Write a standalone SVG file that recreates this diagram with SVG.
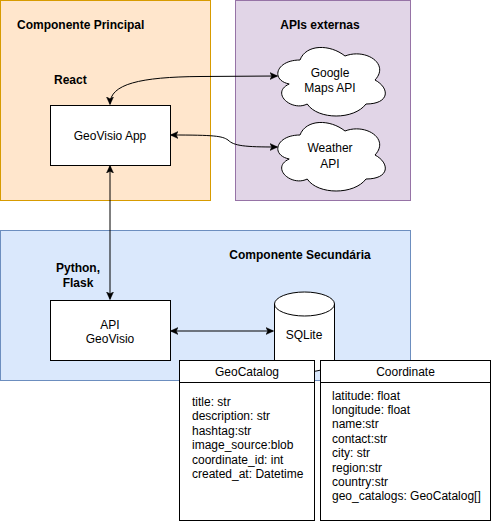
<svg xmlns="http://www.w3.org/2000/svg" width="501" height="522" viewBox="0 0 501 522">
<defs>
<marker id="ah" viewBox="0 0 10 10" refX="9" refY="5" markerWidth="8" markerHeight="8" markerUnits="userSpaceOnUse" orient="auto-start-reverse">
<path d="M0,0.5 L10,5 L0,9.5 L2.5,5 Z" fill="#000" stroke="#000" stroke-width="0.5"/>
</marker>
<style>
text{font-family:"Liberation Sans",Arial,sans-serif;font-size:12px;fill:#000}
.b{font-weight:bold}
.m{text-anchor:middle}
.node{fill:#fff;stroke:#000;stroke-width:1}
.edge{fill:none;stroke:#000;stroke-width:1;marker-start:url(#ah);marker-end:url(#ah)}
</style>
</defs>
<rect width="501" height="522" fill="#fff"/>
<g id="componente-principal">
<rect x="0.5" y="0.5" width="210" height="200" fill="#ffe6cc" stroke="#d79b00"/>
<text class="b" x="17" y="29">Componente Principal</text>
<text class="b" x="54" y="84">React</text>
</g>
<g id="apis-externas">
<rect x="235.5" y="0.5" width="175" height="200" fill="#e1d5e7" stroke="#9673a6"/>
<text class="b m" x="320" y="29">APIs externas</text>
</g>
<g id="componente-secundaria">
<rect x="0.5" y="230.5" width="410" height="150" fill="#dae8fc" stroke="#6c8ebf"/>
<text class="b m" x="300" y="259">Componente Secundária</text>
<text class="b m" x="78" y="272">Python,</text>
<text class="b m" x="78" y="286.5">Flask</text>
</g>
<g id="connectors">
<path class="edge" d="M110,104 C110,84 140,77 200,76.5 L277,76"/>
<path class="edge" d="M171,135 C215,135 222,136 228,140 C234,146 245,147 277,147"/>
<path class="edge" d="M110,166 L110,299"/>
<path class="edge" d="M171,331 L273,331"/>
</g>
<g id="geovisio-app">
<rect class="node" x="50.5" y="105.5" width="120" height="60"/>
<text class="m" x="110" y="139.5">GeoVisio App</text>
</g>
<g id="google-maps-api">
<path class="node" d="M300,60 C276,60 270,80 289.2,84 C270,92.8 291.6,112 307.2,104 C318,120 354,120 366,104 C390,104 390,88 375,80 C390,64 366,48 345,56 C330,44 306,44 300,60 Z"/>
<text class="m" x="330" y="77">Google</text>
<text class="m" x="330" y="92">Maps API</text>
</g>
<g id="weather-api">
<path class="node" d="M300,135 C276,135 270,155 289.2,159 C270,167.8 291.6,187 307.2,179 C318,195 354,195 366,179 C390,179 390,163 375,155 C390,139 366,123 345,131 C330,119 306,119 300,135 Z"/>
<text class="m" x="330" y="152">Weather</text>
<text class="m" x="330" y="167.5">API</text>
</g>
<g id="api-geovisio">
<rect class="node" x="50.5" y="300.5" width="120" height="60"/>
<text class="m" x="110" y="329">API</text>
<text class="m" x="110" y="342.5">GeoVisio</text>
</g>
<g id="sqlite">
<path class="node" d="M274.5,304 A30,12 0 0 1 334.5,304 L334.5,360 A30,12 0 0 1 274.5,360 Z"/>
<path fill="none" stroke="#000" d="M274.5,304 A30,12 0 0 0 334.5,304"/>
<text class="m" x="304" y="339">SQLite</text>
</g>
<g id="geocatalog">
<rect class="node" x="179.5" y="360.5" width="135" height="160"/>
<line x1="179.5" y1="382.5" x2="314.5" y2="382.5" stroke="#000"/>
<text class="m" x="247" y="375.5">GeoCatalog</text>
<text x="192" y="406">title: str</text>
<text x="192" y="420.4">description: str</text>
<text x="192" y="434.8">hashtag:str</text>
<text x="192" y="449.2">image_source:blob</text>
<text x="192" y="463.6">coordinate_id: int</text>
<text x="192" y="478">created_at: Datetime</text>
</g>
<g id="coordinate">
<rect class="node" x="320.5" y="360.5" width="170" height="160"/>
<line x1="320.5" y1="382.5" x2="490.5" y2="382.5" stroke="#000"/>
<text class="m" x="405.5" y="375.5">Coordinate</text>
<text x="332" y="399.5">latitude: float</text>
<text x="332" y="413.9">longitude: float</text>
<text x="332" y="428.3">name:str</text>
<text x="332" y="442.7">contact:str</text>
<text x="332" y="457.1">city: str</text>
<text x="332" y="471.5">region:str</text>
<text x="332" y="485.9">country:str</text>
<text x="332" y="500.3">geo_catalogs: GeoCatalog[]</text>
</g>
</svg>
